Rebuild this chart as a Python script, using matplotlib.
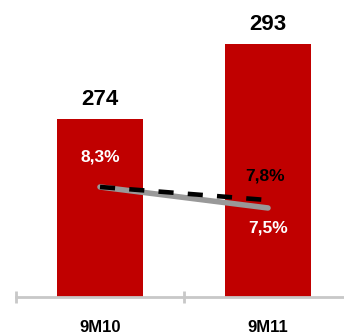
import matplotlib.pyplot as plt

plt.rcParams['font.family'] = ['Liberation Sans', 'DejaVu Sans']

periods = ["9M10", "9M11"]
sales = [274, 293]
margin_solid = [8.3, 7.5]
margin_dashed = [8.3, 7.8]
margin_solid_labels = ["8,3%", "7,5%"]
margin_dashed_labels = ["", "7,8%"]

red = "#C00000"
x = list(range(len(periods)))

fig = plt.figure(figsize=(3.44, 3.32), dpi=100)
ax = fig.add_axes([16 / 344, 35 / 332, 336 / 344, 297 / 332])
ax.bar(x, sales, width=0.51, color=red, zorder=2)
ax.set_xlim(-0.5, 1.5)
ax.set_ylim(229, 304.2)

for xi, v in zip(x, sales):
    ax.annotate(str(v), (xi, v), xytext=(0, 7), textcoords="offset points",
                ha="center", va="bottom", fontsize=16, fontweight="bold")

for s in ["top", "right", "left"]:
    ax.spines[s].set_visible(False)
ax.spines["bottom"].set_color("#c8c8c8")
ax.spines["bottom"].set_linewidth(2)
ax.set_yticks([])
ax.set_xticks([-0.5, 0.5, 1.5])
ax.set_xticklabels([])
ax.tick_params(axis="x", direction="inout", length=8, width=2, color="#c8c8c8")
for xi, p in zip(x, periods):
    ax.annotate(p, (xi, 229), xytext=(0, -16.5), textcoords="offset points",
                ha="center", va="top", fontsize=12, fontweight="bold",
                annotation_clip=False)

ax2 = ax.twinx()
ax2.set_ylim(4.11, 15.42)
ax2.axis("off")
ax2.plot(x, margin_solid, color="#999999", linewidth=4, solid_capstyle="round", zorder=3)
ax2.plot(x, margin_dashed, color="black", linewidth=3.3, dashes=(3.3, 3.1), zorder=4)

ax2.annotate(margin_solid_labels[0], (0, margin_solid[0]), xytext=(0, 16), textcoords="offset points",
             ha="center", va="bottom", fontsize=12.5, fontweight="bold", color="white")
ax2.annotate(margin_solid_labels[1], (1, margin_solid[1]), xytext=(0, -9), textcoords="offset points",
             ha="center", va="top", fontsize=12.5, fontweight="bold", color="white")
ax2.annotate(margin_dashed_labels[1], (1, margin_dashed[1]), xytext=(-2, 12), textcoords="offset points",
             ha="center", va="bottom", fontsize=12.5, fontweight="bold", color="black")

fig.savefig("out.png", dpi=100)
